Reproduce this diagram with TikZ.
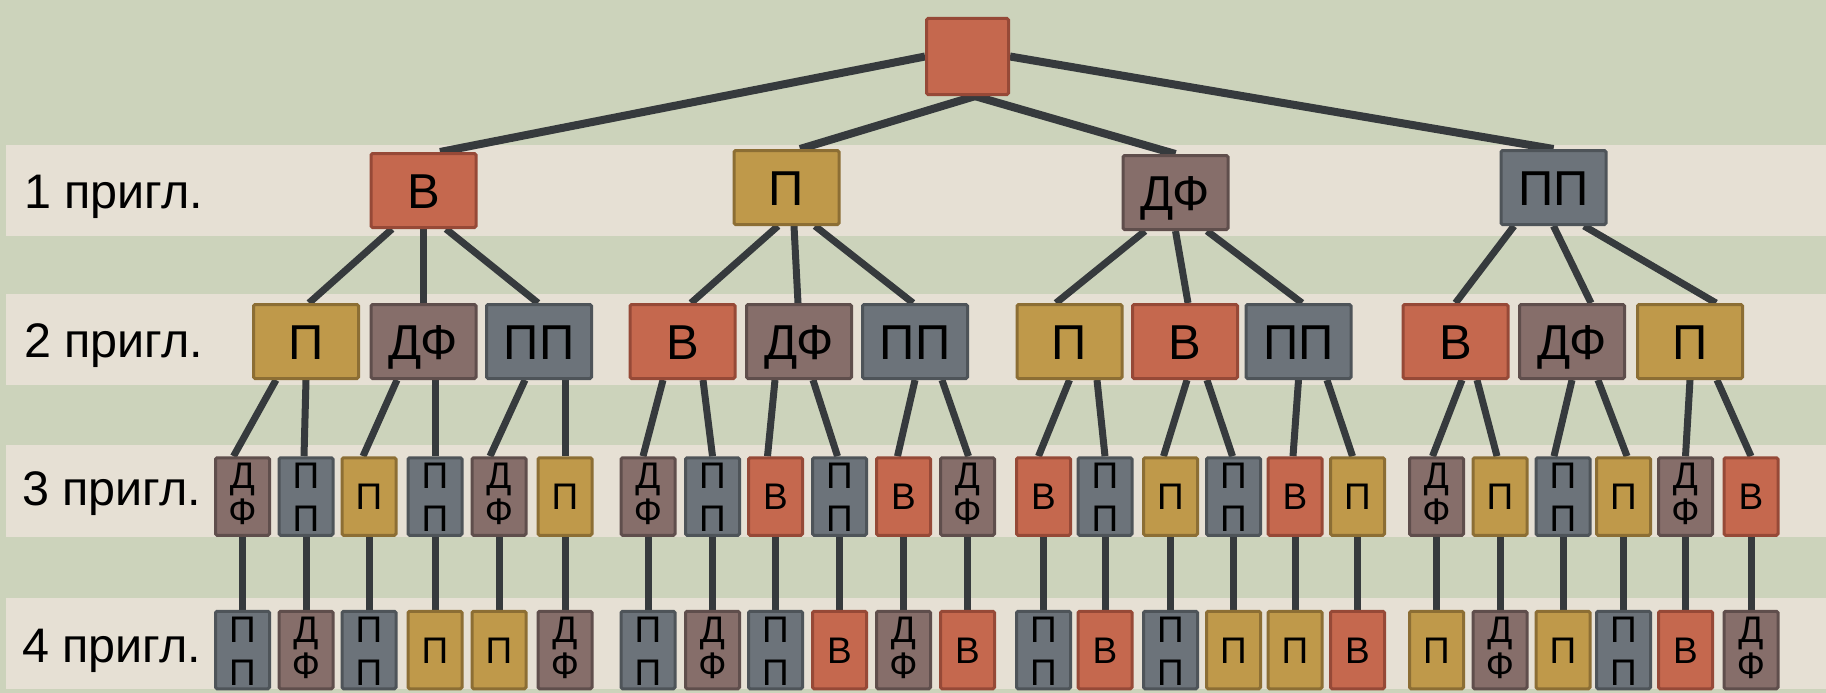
\documentclass[tikz,border=0pt]{standalone}
\usepackage{fontspec}
\setmainfont{Liberation Sans}
\definecolor{sage}{HTML}{CCD3BB}
\definecolor{beige}{HTML}{E6E0D4}
\definecolor{redF}{HTML}{C5684E}
\definecolor{redD}{HTML}{964937}
\definecolor{goldF}{HTML}{BF994A}
\definecolor{goldD}{HTML}{8C6E34}
\definecolor{mauveF}{HTML}{866E6A}
\definecolor{mauveD}{HTML}{5F4E4C}
\definecolor{slateF}{HTML}{6C737A}
\definecolor{slateD}{HTML}{4E5459}
\definecolor{lineC}{HTML}{363A3D}
\pgfdeclarelayer{lines}
\pgfsetlayers{lines,main}
\tikzset{
  box/.style={draw, line width=3pt, rounded corners=1.5pt, inner sep=0pt, text depth=0pt},
  big/.style={box, minimum width=105pt, minimum height=74pt, font=\fontsize{49}{52}\selectfont, text height=35pt},
  small/.style={box, minimum width=54pt, minimum height=77.5pt, font=\fontsize{37}{40}\selectfont, text height=26.5pt},
  lt/.style={font=\fontsize{37}{40}\selectfont, inner sep=0pt, anchor=base},
  lab/.style={font=\fontsize{48.5}{52}\selectfont, inner sep=0pt, anchor=base west},
  cB/.style={fill=redF, draw=redD},
  cP/.style={fill=goldF, draw=goldD},
  cD/.style={fill=mauveF, draw=mauveD},
  cQ/.style={fill=slateF, draw=slateD},
  ln/.style={draw=lineC, line width=7pt},
  lnt/.style={draw=lineC, line width=8pt},
  band/.style={fill=beige}
}
\newcommand\BigB[3]{\node[big,cB] (#1) at (#2,#3) {В};}
\newcommand\BigP[3]{\node[big,cP] (#1) at (#2,#3) {П};}
\newcommand\BigD[3]{\node[big,cD] (#1) at (#2,#3) {ДФ};}
\newcommand\BigQ[3]{\node[big,cQ] (#1) at (#2,#3) {ПП};}
\newcommand\SmB[3]{\node[small,cB] (#1) at (#2,#3) {В};}
\newcommand\SmP[3]{\node[small,cP] (#1) at (#2,#3) {П};}
\newcommand\SmD[3]{\node[small,cD] (#1) at (#2,#3) {};
  \node[lt] (#1a) at ([yshift=8pt]#1.center) {Д};
  \node[lt] (#1b) at ([yshift=-28pt]#1.center) {Ф};}
\newcommand\SmQ[3]{\node[small,cQ] (#1) at (#2,#3) {};
  \node[lt] (#1a) at ([yshift=8pt]#1.center) {П};
  \node[lt] (#1b) at ([yshift=-35pt]#1.center) {П};}
\newcommand\conn[4]{\draw[ln] ([xshift=#2pt]#1.south) -- ([xshift=#4pt]#3.north);}
\begin{document}
\begin{tikzpicture}[x=1pt,y=-1pt]
\useasboundingbox (0,0) rectangle (1826,693);
\begin{pgfonlayer}{lines}
\fill[sage] (0,0) rectangle (1826,693);
\fill[band] (6,145) rectangle (1826,236);
\fill[band] (6,294) rectangle (1826,385);
\fill[band] (6,445) rectangle (1826,537);
\fill[band] (6,598) rectangle (1826,689);
\end{pgfonlayer}

% level labels
\node[lab] (lab1) at (24,208) {1 пригл.};
\node[lab] (lab2) at (24,357) {2 пригл.};
\node[lab] (lab3) at (22,505) {3 пригл.};
\node[lab] (lab4) at (22,662) {4 пригл.};

% root
\node[box,cB,minimum width=82pt,minimum height=76pt] (root) at (967.5,56.5) {};

% level 1
\BigB{a1}{423.5}{190.5}
\BigP{a2}{786.5}{187.5}
\BigD{a3}{1175.5}{192.5}
\BigQ{a4}{1553.5}{187.5}

% level 2
\BigP{b1}{306}{341.5}
\BigD{b2}{423.5}{341.5}
\BigQ{b3}{539}{341.5}
\BigB{b4}{682.5}{341.5}
\BigD{b5}{799}{341.5}
\BigQ{b6}{915}{341.5}
\BigP{b7}{1069.5}{341.5}
\BigB{b8}{1185}{341.5}
\BigQ{b9}{1298.5}{341.5}
\BigB{b10}{1455.5}{341.5}
\BigD{b11}{1572}{341.5}
\BigP{b12}{1690}{341.5}

% level 3
\SmD{t1}{242.5}{496.5}
\SmQ{t2}{306}{496.5}
\SmP{t3}{369}{496.5}
\SmQ{t4}{435}{496.5}
\SmD{t5}{499}{496.5}
\SmP{t6}{565}{496.5}
\SmD{t7}{648}{496.5}
\SmQ{t8}{712.5}{496.5}
\SmB{t9}{775.5}{496.5}
\SmQ{t10}{839.5}{496.5}
\SmB{t11}{903.5}{496.5}
\SmD{t12}{967.5}{496.5}
\SmB{t13}{1043.5}{496.5}
\SmQ{t14}{1105}{496.5}
\SmP{t15}{1170.5}{496.5}
\SmQ{t16}{1233.5}{496.5}
\SmB{t17}{1295}{496.5}
\SmP{t18}{1357.5}{496.5}
\SmD{t19}{1436.5}{496.5}
\SmP{t20}{1500}{496.5}
\SmQ{t21}{1563}{496.5}
\SmP{t22}{1623.5}{496.5}
\SmD{t23}{1685.5}{496.5}
\SmB{t24}{1751}{496.5}

% level 4
\SmQ{f1}{242.5}{650}
\SmD{f2}{306}{650}
\SmQ{f3}{369}{650}
\SmP{f4}{435}{650}
\SmP{f5}{499}{650}
\SmD{f6}{565}{650}
\SmQ{f7}{648}{650}
\SmD{f8}{712.5}{650}
\SmQ{f9}{775.5}{650}
\SmB{f10}{839.5}{650}
\SmD{f11}{903.5}{650}
\SmB{f12}{967.5}{650}
\SmQ{f13}{1043.5}{650}
\SmB{f14}{1105}{650}
\SmQ{f15}{1170.5}{650}
\SmP{f16}{1233.5}{650}
\SmP{f17}{1295}{650}
\SmB{f18}{1357.5}{650}
\SmP{f19}{1436.5}{650}
\SmD{f20}{1500}{650}
\SmP{f21}{1563}{650}
\SmQ{f22}{1623.5}{650}
\SmB{f23}{1685.5}{650}
\SmD{f24}{1751}{650}

\begin{pgfonlayer}{lines}
% root to level 1
\draw[lnt] (root.west) -- ([xshift=16.5pt]a1.north);
\draw[lnt] ([xshift=8pt]root.south) -- ([xshift=13.5pt]a2.north);
\draw[lnt] ([xshift=7pt]root.south) -- (a3.north);
\draw[lnt] (root.east) -- (a4.north);
% level 1 to level 2
\conn{a1}{-31.5}{b1}{3}
\conn{a1}{0}{b2}{0}
\conn{a1}{22.5}{b3}{-1}
\conn{a2}{-8.5}{b4}{8.5}
\conn{a2}{7.5}{b5}{-1}
\conn{a2}{28.5}{b6}{-2}
\conn{a3}{-30.5}{b7}{-13.5}
\conn{a3}{0}{b8}{3}
\conn{a3}{31.5}{b9}{3.5}
\conn{a4}{-39.5}{b10}{0}
\conn{a4}{0}{b11}{19}
\conn{a4}{30.5}{b12}{26}
% level 2 to level 3
\conn{b1}{-30}{t1}{-9}
\conn{b1}{0}{t2}{-2}
\conn{b2}{-26.5}{t3}{-6}
\conn{b2}{11.5}{t4}{0}
\conn{b3}{-14}{t5}{-9}
\conn{b3}{26}{t6}{0}
\conn{b4}{-19.5}{t7}{-5}
\conn{b4}{20.5}{t8}{0}
\conn{b5}{-24}{t9}{-8}
\conn{b5}{14}{t10}{-2}
\conn{b6}{0}{t11}{-6}
\conn{b6}{27}{t12}{1}
\conn{b7}{0}{t13}{-5}
\conn{b7}{27.5}{t14}{0}
\conn{b8}{2}{t15}{-7}
\conn{b8}{22}{t16}{-1}
\conn{b9}{0}{t17}{-2}
\conn{b9}{28.5}{t18}{-5}
\conn{b10}{6.5}{t19}{-4}
\conn{b10}{21.5}{t20}{-3}
\conn{b11}{0}{t21}{-9}
\conn{b11}{26}{t22}{3.5}
\conn{b12}{0}{t23}{0}
\conn{b12}{27}{t24}{0}
% level 3 to level 4
\foreach \i in {1,...,24} {\draw[ln] (t\i.south) -- (f\i.north);}
\end{pgfonlayer}
\end{tikzpicture}
\end{document}
